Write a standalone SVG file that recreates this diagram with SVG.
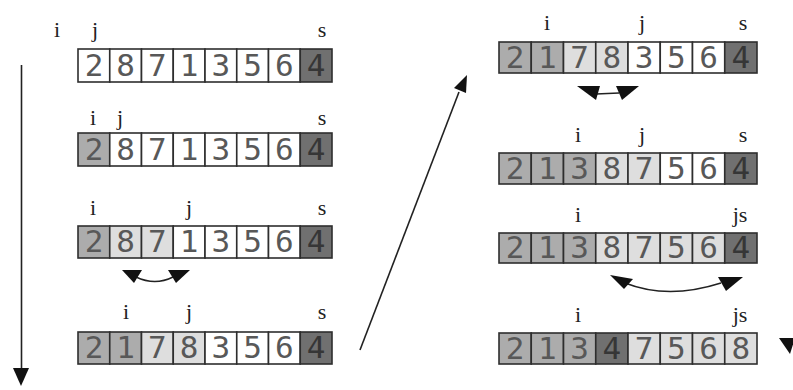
<svg xmlns="http://www.w3.org/2000/svg" width="793" height="390" viewBox="0 0 793 390">
<style>
.c{stroke:#2e2e2e;stroke-width:1.6}
.w{fill:#ffffff}.l{fill:#dedede}.m{fill:#acacac}.d{fill:#707070}
.n{font-family:"DejaVu Sans Mono","Liberation Mono",monospace;font-size:31px;fill:#585858;text-anchor:middle}
.k{fill:#363636}
.t{font-family:"Liberation Serif","DejaVu Serif",serif;font-size:22px;fill:#222;text-anchor:middle}
.ln{fill:none;stroke:#222;stroke-width:1.6}
.hd{fill:#111}
</style>
<rect width="793" height="390" fill="#fff"/>

<g id="a1">
<text class="t" x="57" y="37">i</text><text class="t" x="95" y="37">j</text><text class="t" x="322" y="37">s</text>
<rect class="c w" x="78" y="49" width="31.75" height="33"/><text class="n" x="94" y="76">2</text>
<rect class="c w" x="109.75" y="49" width="31.75" height="33"/><text class="n" x="125.6" y="76">8</text>
<rect class="c w" x="141.5" y="49" width="31.75" height="33"/><text class="n" x="157.4" y="76">7</text>
<rect class="c w" x="173.25" y="49" width="31.75" height="33"/><text class="n" x="189.1" y="76">1</text>
<rect class="c w" x="205" y="49" width="31.75" height="33"/><text class="n" x="220.9" y="76">3</text>
<rect class="c w" x="236.75" y="49" width="31.75" height="33"/><text class="n" x="252.6" y="76">5</text>
<rect class="c w" x="268.5" y="49" width="31.75" height="33"/><text class="n" x="284.4" y="76">6</text>
<rect class="c d" x="300.25" y="49" width="31.75" height="33"/><text class="n k" x="316.1" y="76">4</text>
</g>

<g id="a2">
<text class="t" x="93" y="125">i</text><text class="t" x="120" y="125">j</text><text class="t" x="322" y="125">s</text>
<rect class="c m" x="78" y="133" width="31.75" height="33"/><text class="n" x="94" y="160">2</text>
<rect class="c w" x="109.75" y="133" width="31.75" height="33"/><text class="n" x="125.6" y="160">8</text>
<rect class="c w" x="141.5" y="133" width="31.75" height="33"/><text class="n" x="157.4" y="160">7</text>
<rect class="c w" x="173.25" y="133" width="31.75" height="33"/><text class="n" x="189.1" y="160">1</text>
<rect class="c w" x="205" y="133" width="31.75" height="33"/><text class="n" x="220.9" y="160">3</text>
<rect class="c w" x="236.75" y="133" width="31.75" height="33"/><text class="n" x="252.6" y="160">5</text>
<rect class="c w" x="268.5" y="133" width="31.75" height="33"/><text class="n" x="284.4" y="160">6</text>
<rect class="c d" x="300.25" y="133" width="31.75" height="33"/><text class="n k" x="316.1" y="160">4</text>
</g>

<g id="a3">
<text class="t" x="93" y="215">i</text><text class="t" x="189" y="215">j</text><text class="t" x="322" y="215">s</text>
<rect class="c m" x="78" y="226" width="31.75" height="32"/><text class="n" x="94" y="252">2</text>
<rect class="c l" x="109.75" y="226" width="31.75" height="32"/><text class="n" x="125.6" y="252">8</text>
<rect class="c l" x="141.5" y="226" width="31.75" height="32"/><text class="n" x="157.4" y="252">7</text>
<rect class="c w" x="173.25" y="226" width="31.75" height="32"/><text class="n" x="189.1" y="252">1</text>
<rect class="c w" x="205" y="226" width="31.75" height="32"/><text class="n" x="220.9" y="252">3</text>
<rect class="c w" x="236.75" y="226" width="31.75" height="32"/><text class="n" x="252.6" y="252">5</text>
<rect class="c w" x="268.5" y="226" width="31.75" height="32"/><text class="n" x="284.4" y="252">6</text>
<rect class="c d" x="300.25" y="226" width="31.75" height="32"/><text class="n k" x="316.1" y="252">4</text>
</g>

<g id="a4">
<text class="t" x="126" y="319">i</text><text class="t" x="189" y="319">j</text><text class="t" x="322" y="319">s</text>
<rect class="c m" x="78" y="332" width="31.75" height="32"/><text class="n" x="94" y="358">2</text>
<rect class="c m" x="109.75" y="332" width="31.75" height="32"/><text class="n" x="125.6" y="358">1</text>
<rect class="c l" x="141.5" y="332" width="31.75" height="32"/><text class="n" x="157.4" y="358">7</text>
<rect class="c l" x="173.25" y="332" width="31.75" height="32"/><text class="n" x="189.1" y="358">8</text>
<rect class="c w" x="205" y="332" width="31.75" height="32"/><text class="n" x="220.9" y="358">3</text>
<rect class="c w" x="236.75" y="332" width="31.75" height="32"/><text class="n" x="252.6" y="358">5</text>
<rect class="c w" x="268.5" y="332" width="31.75" height="32"/><text class="n" x="284.4" y="358">6</text>
<rect class="c d" x="300.25" y="332" width="31.75" height="32"/><text class="n k" x="316.1" y="358">4</text>
</g>

<g id="r1">
<text class="t" x="547" y="30">i</text><text class="t" x="642" y="30">j</text><text class="t" x="743" y="30">s</text>
<rect class="c m" x="499" y="42" width="32.25" height="31"/><text class="n" x="515.1" y="68">2</text>
<rect class="c m" x="531.25" y="42" width="32.25" height="31"/><text class="n" x="547.4" y="68">1</text>
<rect class="c l" x="563.5" y="42" width="32.25" height="31"/><text class="n" x="579.6" y="68">7</text>
<rect class="c l" x="595.75" y="42" width="32.25" height="31"/><text class="n" x="611.9" y="68">8</text>
<rect class="c w" x="628" y="42" width="32.25" height="31"/><text class="n" x="644.1" y="68">3</text>
<rect class="c w" x="660.25" y="42" width="32.25" height="31"/><text class="n" x="676.4" y="68">5</text>
<rect class="c w" x="692.5" y="42" width="32.25" height="31"/><text class="n" x="708.6" y="68">6</text>
<rect class="c d" x="724.75" y="42" width="32.25" height="31"/><text class="n k" x="740.9" y="68">4</text>
</g>

<g id="r2">
<text class="t" x="578" y="142">i</text><text class="t" x="642" y="142">j</text><text class="t" x="743" y="142">s</text>
<rect class="c m" x="499" y="153" width="32.25" height="31"/><text class="n" x="515.1" y="179">2</text>
<rect class="c m" x="531.25" y="153" width="32.25" height="31"/><text class="n" x="547.4" y="179">1</text>
<rect class="c m" x="563.5" y="153" width="32.25" height="31"/><text class="n" x="579.6" y="179">3</text>
<rect class="c l" x="595.75" y="153" width="32.25" height="31"/><text class="n" x="611.9" y="179">8</text>
<rect class="c l" x="628" y="153" width="32.25" height="31"/><text class="n" x="644.1" y="179">7</text>
<rect class="c w" x="660.25" y="153" width="32.25" height="31"/><text class="n" x="676.4" y="179">5</text>
<rect class="c w" x="692.5" y="153" width="32.25" height="31"/><text class="n" x="708.6" y="179">6</text>
<rect class="c d" x="724.75" y="153" width="32.25" height="31"/><text class="n k" x="740.9" y="179">4</text>
</g>

<g id="r3">
<text class="t" x="578" y="222">i</text><text class="t" x="740" y="222">js</text>
<rect class="c m" x="499" y="233" width="32.25" height="30"/><text class="n" x="515.1" y="258">2</text>
<rect class="c m" x="531.25" y="233" width="32.25" height="30"/><text class="n" x="547.4" y="258">1</text>
<rect class="c m" x="563.5" y="233" width="32.25" height="30"/><text class="n" x="579.6" y="258">3</text>
<rect class="c l" x="595.75" y="233" width="32.25" height="30"/><text class="n" x="611.9" y="258">8</text>
<rect class="c l" x="628" y="233" width="32.25" height="30"/><text class="n" x="644.1" y="258">7</text>
<rect class="c l" x="660.25" y="233" width="32.25" height="30"/><text class="n" x="676.4" y="258">5</text>
<rect class="c l" x="692.5" y="233" width="32.25" height="30"/><text class="n" x="708.6" y="258">6</text>
<rect class="c d" x="724.75" y="233" width="32.25" height="30"/><text class="n k" x="740.9" y="258">4</text>
</g>

<g id="r4">
<text class="t" x="578" y="322">i</text><text class="t" x="740" y="322">js</text>
<rect class="c m" x="499" y="333" width="32.25" height="31"/><text class="n" x="515.1" y="359">2</text>
<rect class="c m" x="531.25" y="333" width="32.25" height="31"/><text class="n" x="547.4" y="359">1</text>
<rect class="c m" x="563.5" y="333" width="32.25" height="31"/><text class="n" x="579.6" y="359">3</text>
<rect class="c d" x="595.75" y="333" width="32.25" height="31"/><text class="n k" x="611.9" y="359">4</text>
<rect class="c l" x="628" y="333" width="32.25" height="31"/><text class="n" x="644.1" y="359">7</text>
<rect class="c l" x="660.25" y="333" width="32.25" height="31"/><text class="n" x="676.4" y="359">5</text>
<rect class="c l" x="692.5" y="333" width="32.25" height="31"/><text class="n" x="708.6" y="359">6</text>
<rect class="c l" x="724.75" y="333" width="32.25" height="31"/><text class="n" x="740.9" y="359">8</text>
</g>

<g id="connectors">
<line class="ln" x1="21.5" y1="65" x2="21.5" y2="372"/>
<polygon class="hd" points="13,368 29,368 21,386"/>
<line class="ln" x1="360" y1="350" x2="459" y2="92" stroke-width="1.3"/>
<polygon class="hd" points="467,75 454,88 466,93"/>
<path class="ln" d="M136,277 Q155,286 173,277"/>
<polygon class="hd" points="122,270 142,270 134,283"/>
<polygon class="hd" points="168,270 190,270 176,283"/>
<path class="ln" d="M596,94 L619,93"/>
<polygon class="hd" points="577,86 600,86 596,100"/>
<polygon class="hd" points="616,86 639,86 622,100"/>
<path class="ln" d="M625,283 Q668,300 721,283"/>
<polygon class="hd" points="610,275 633,279 624,289"/>
<polygon class="hd" points="718,277 743,277 726,291"/>
<polygon class="hd" points="779,338 795,338 790,354"/>
</g>
</svg>
